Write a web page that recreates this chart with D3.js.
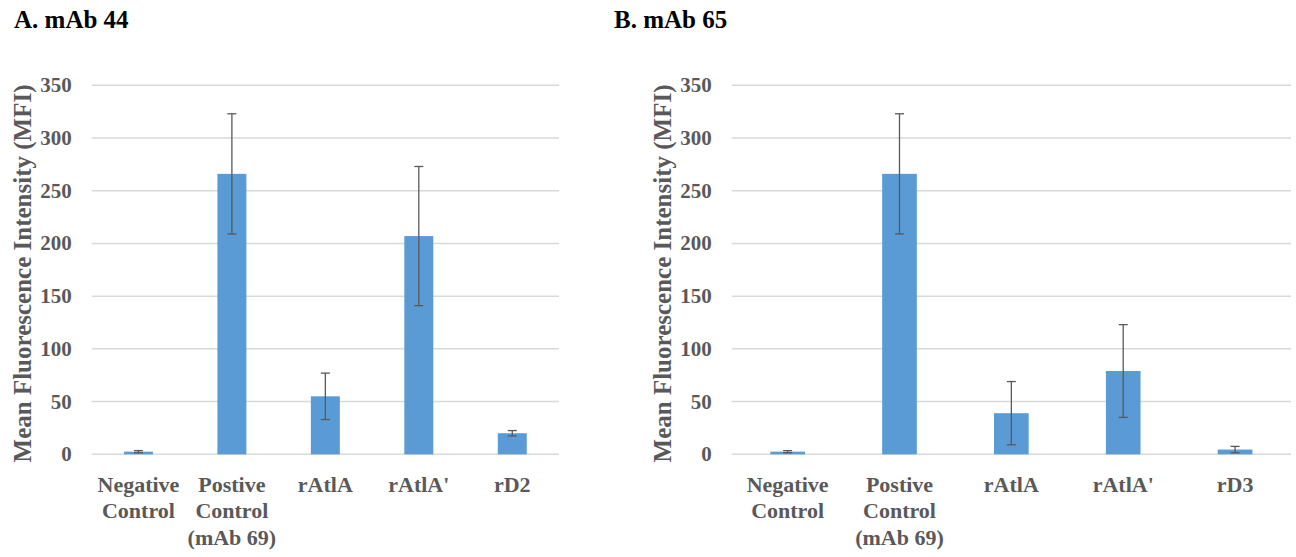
<!DOCTYPE html>
<html>
<head>
<meta charset="utf-8">
<script src="https://cdn.jsdelivr.net/npm/d3@7"></script>
<style>
  body { margin: 0; background: #fff; }
  text { font-family: "Liberation Serif", "Times New Roman", serif; font-weight: bold; }
</style>
</head>
<body>
<svg width="1296" height="557"></svg>
<script>
// data
const categoriesA = ["Negative\nControl", "Postive\nControl\n(mAb 69)", "rAtlA", "rAtlA'", "rD2"];
const categoriesB = ["Negative\nControl", "Postive\nControl\n(mAb 69)", "rAtlA", "rAtlA'", "rD3"];
const meanA = [2.5, 266, 55, 207, 20];
const errA = [1, 57, 22, 66, 2.5];
const meanB = [2.5, 266, 39, 79, 4.5];
const errB = [1, 57, 30, 44, 3];
const yTicks = [0, 50, 100, 150, 200, 250, 300, 350];

const svg = d3.select("svg");

// y is the same for both panels
const y = d3.scaleLinear().domain([0, 350]).range([454.3, 85.3]);

let drawPanel = (title, titleX, left, right, cats, means, errs) => {
  const g = svg.append("g");

  g.append("text")
    .attr("x", titleX).attr("y", 28)
    .style("font-size", "25px").style("fill", "#000")
    .text(title);

  // gridlines
  g.selectAll(".grid")
    .data(yTicks)
    .enter()
    .append("line")
    .attr("x1", left).attr("x2", right)
    .attr("y1", d => y(d)).attr("y2", d => y(d))
    .style("stroke", "#d9d9d9")
    .style("stroke-width", 1.5);

  // tick labels
  g.selectAll(".tick")
    .data(yTicks)
    .enter()
    .append("text")
    .attr("x", left - 20).attr("y", d => y(d) + 7)
    .attr("text-anchor", "end")
    .style("font-size", "21px").style("fill", "#595959")
    .text(d => d);

  // axis title
  g.append("text")
    .attr("transform", `translate(${left - 61},273.5) rotate(-90)`)
    .attr("text-anchor", "middle")
    .style("font-size", "25px").style("fill", "#595959")
    .text("Mean Fluorescence Intensity (MFI)");

  const x = d3.scaleBand()
    .domain(cats)
    .range([left, right])
    .paddingInner(0.69)
    .paddingOuter(0.345);

  g.selectAll(".bar")
    .data(means)
    .enter()
    .append("rect")
    .attr("x", (d, i) => x(cats[i]))
    .attr("y", d => y(d))
    .attr("width", x.bandwidth())
    .attr("height", d => y(0) - y(d))
    .style("fill", "#5b9bd5");

  // error bars
  const cx = i => x(cats[i]) + x.bandwidth() / 2;
  means.forEach((m, i) => {
    const top = y(m + errs[i]), bot = y(Math.max(0, m - errs[i]));
    g.append("line").attr("x1", cx(i)).attr("x2", cx(i)).attr("y1", top).attr("y2", bot)
      .style("stroke", "#595959").style("stroke-width", 1.3);
    [top, bot].forEach(yy => {
      g.append("line").attr("x1", cx(i) - 4.5).attr("x2", cx(i) + 4.5).attr("y1", yy).attr("y2", yy)
        .style("stroke", "#595959").style("stroke-width", 1.3);
    });
  });

  // category labels
  cats.forEach(c => {
    const t = g.append("text")
      .attr("text-anchor", "middle")
      .style("font-size", "22px").style("fill", "#595959");
    c.split("\n").forEach((line, k) => {
      t.append("tspan").attr("x", cx(cats.indexOf(c))).attr("y", 491.7 + k * 26.5).text(line);
    });
  });
};

drawPanel("A. mAb 44", 14, 91.7, 559, categoriesA, meanA, errA);
drawPanel("B. mAb 65", 614, 731.7, 1291, categoriesB, meanB, errB);
</script>
</body>
</html>
